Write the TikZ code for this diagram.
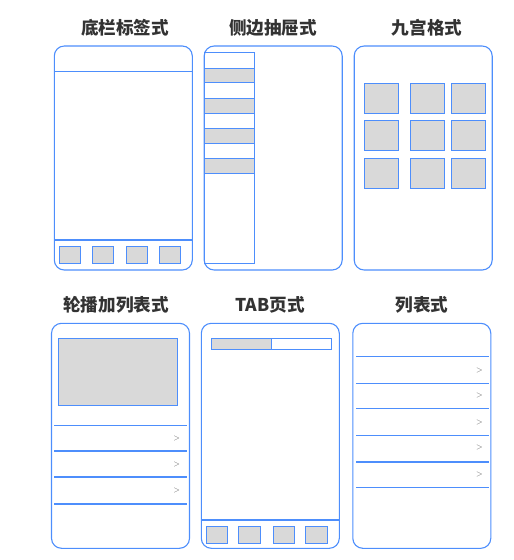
\documentclass[tikz,border=0pt]{standalone}
\usepackage{fontspec}
\usepackage{tikz}
\newfontfamily\cjk{Noto Sans CJK SC}
\definecolor{uiblue}{RGB}{77,142,252}
\definecolor{uigray}{RGB}{217,217,217}
\definecolor{titlegray}{RGB}{51,51,51}

\begin{document}
\begin{tikzpicture}[
        x=1pt, y=-1pt,
        phone/.style={draw=uiblue,line width=1.1pt,rounded corners=10pt,minimum width=138pt,minimum height=224pt,inner sep=0pt},
        block/.style={draw=uiblue,fill=uigray,line width=1pt,inner sep=0pt},
        sep/.style={draw=uiblue,line width=1.1pt},
        title/.style={font=\cjk\bfseries\fontsize{17.6}{17.6}\selectfont,text=titlegray,inner sep=0pt},
        more/.style={font=\sffamily\fontsize{8}{8}\selectfont,text=gray!80!black,inner sep=0pt}
      ]
      \useasboundingbox (0,0) rectangle (514,560);
      % Titles
      \node[title] (t1) at (125,28) {底栏标签式};
      \node[title] (t2) at (273,28) {侧边抽屉式};
      \node[title] (t3) at (427,28) {九宫格式};
      \node[title] (t4) at (116,305) {轮播加列表式};
      \node[title] (t5) at (270,305) {TAB页式};
      \node[title] (t6) at (422,305) {列表式};
      % Phones
      \node[phone] (p1) at (123.3,158) {};
      \node[phone] (p2) at (273.2,158) {};
      \node[phone] (p3) at (423.2,158) {};
      \node[phone,minimum height=225pt] (p4) at (120.5,435.8) {};
      \node[phone,minimum height=225pt] (p5) at (270.3,435.8) {};
      \node[phone,minimum height=225pt] (p6) at (421.8,435.8) {};
      % Bottom tab bar
      \draw[sep] (54.3,71.7) -- (192.3,71.7);
      \draw[sep] (54.3,240) -- (192.3,240);
      \foreach \x [count=\i] in {70,102.5,136.7,169.8}
        \node[block,minimum width=21pt,minimum height=17pt] (tab\i) at (\x,254.5) {};
      % Side drawer
      \node[draw=uiblue,line width=1pt,inner sep=0pt,minimum width=50.3pt,minimum height=210.6pt] (drawer) at (229.2,158) {};
      \foreach \y [count=\i] in {75.5,105.8,135.8,165.8}
        \node[block,minimum width=50.3pt,minimum height=14.5pt] (menu\i) at (229.2,\y) {};
      % Nine grid
      \foreach \y [count=\j] in {98.3,135.8,173.3}
        \foreach \x [count=\i] in {381,427,468.7}
          \node[block,minimum width=34pt,minimum height=30pt] (cell\j\i) at (\x,\y) {};
      % Banner and list
      \node[block,minimum width=118.7pt,minimum height=67.4pt] (banner) at (118.3,372) {};
      \foreach \y in {425.7,451,477,504}
        \draw[sep] (54,\y) -- (186.7,\y);
      \foreach \y [count=\i] in {438.5,464,490.5}
        \node[more] (a\i) at (176.7,\y) {>};
      % Tab page
      \node[block,minimum width=60pt,minimum height=11pt] (tabl) at (241.7,343.8) {};
      \node[draw=uiblue,line width=1pt,inner sep=0pt,minimum width=60pt,minimum height=11pt] (tabr) at (301.7,343.8) {};
      \draw[sep] (201.3,520) -- (339.3,520);
      \foreach \x [count=\i] in {216.8,249.5,284,316.7}
        \node[block,minimum width=21.5pt,minimum height=17.3pt] (btn\i) at (\x,534.7) {};
      % List
      \foreach \y in {356.7,383.3,408.7,435.7,462,487.3}
        \draw[sep] (356,\y) -- (488.7,\y);
      \foreach \y [count=\i] in {370.7,395,422.7,447.7,474}
        \node[more] (b\i) at (479.3,\y) {>};
    \end{tikzpicture}
\end{document}
